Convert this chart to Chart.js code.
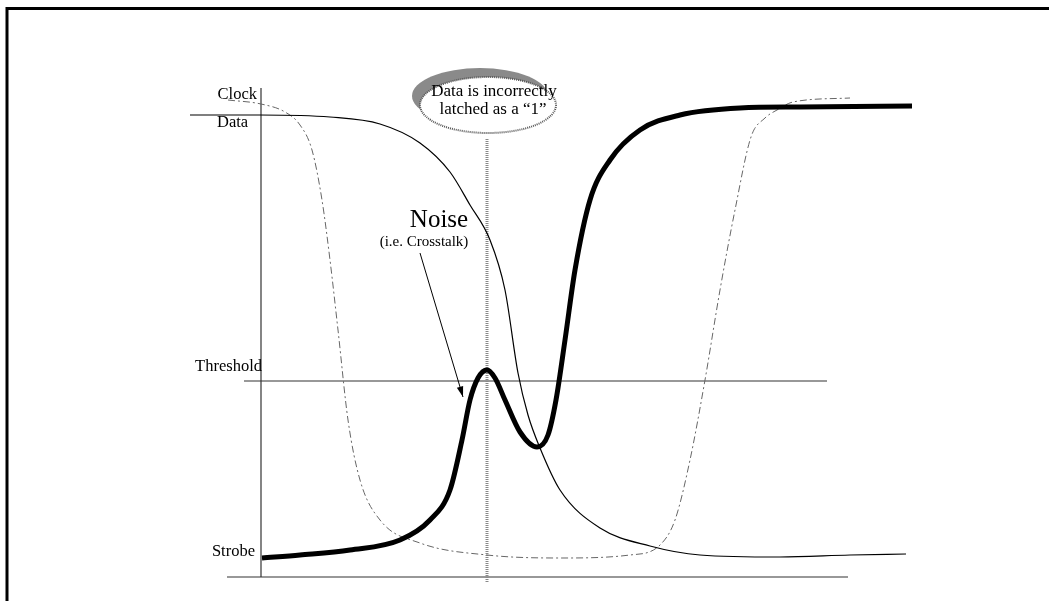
<!DOCTYPE html>
<html>
<head>
<meta charset="utf-8">
<script src="https://cdn.jsdelivr.net/npm/chart.js@4/dist/chart.umd.min.js"></script>
<style>
  html, body { margin:0; padding:0; background:#fff; }
  canvas { display:block; }
</style>
</head>
<body>
<canvas id="timing" width="1049" height="601"></canvas>
<script>
// time (x) and level (y)
const strobeT = [0.2, 7.8, 17.8, 27.8, 33.8, 37.8, 40.2, 41.8, 43.4, 45.2, 46.8, 48.8, 51.8, 55.2, 57.4, 59, 60.8, 62.8, 65.8, 69.8, 75.8, 83.8, 95.8, 107.8, 130.2];
const strobeV = [3.8, 4.4, 5.4, 7.4, 11.4, 17.4, 27.4, 35.4, 39.8, 41.4, 39.8, 35.4, 29, 26, 28.4, 35.4, 47.4, 61.4, 75.4, 83.4, 89.4, 92.4, 93.8, 94, 94.2];

const dataT = [-14.2, -0.2, 13.8, 23.8, 31.8, 37.8, 41.8, 45.8, 48.8, 51.4, 53.4, 55.8, 59.8, 67.8, 77.8, 87.8, 103.8, 117.8, 129];
const dataV = [92.4, 92.4, 92, 90.6, 86.8, 81, 74.4, 67.4, 57.4, 40.8, 32.4, 25.8, 17.4, 9.8, 6.2, 4.4, 4, 4.4, 4.6];

const clockT = [-6.6, 0, 4.8, 7.8, 10.2, 12.2, 13.8, 15.4, 17.4, 19.8, 23.8, 31.8, 45.2, 59.8, 73.8, 79.8, 82.8, 85.8, 88.8, 91.8, 94.8, 98, 100.8, 103.2, 106.4, 117.8];
const clockV = [95.4, 94.6, 93, 90.4, 85.4, 75.4, 63.4, 49.4, 31.4, 19.4, 11.4, 6.8, 4.4, 3.8, 4.4, 6.4, 11.4, 23.4, 39.4, 57.4, 73.4, 88, 91.8, 93.4, 95, 95.8];

const thresholdLevel = 39.2;
const thresholdSpan = [-3.4, 113.2];
const latchTime = 45.2;
const latchSpan = [-1, 87.8];
const xAxisSpan = [-6.8, 117.4];
const yAxisTop = 97.8;

const levelLabels = ['Clock', 'Data', 'Threshold', 'Strobe'];
const calloutLines = ['Data is incorrectly', 'latched as a \u201c1\u201d'];
const noiseLabels = ['Noise', '(i.e. Crosstalk)'];

const pts = (xs, ys) => xs.map((v, i) => ({x: v, y: ys[i]}));

const line = (data, color, width, dash, extra={}) => ({
  data, borderColor: color, borderWidth: width, borderDash: dash || [],
  pointRadius: 0, fill: false, tension: 0, ...extra
});

const overlay = {
  id: 'overlay',
  afterDraw(chart){
    const {ctx, scales:{x, y}} = chart;
    const px = v => x.getPixelForValue(v), py = v => y.getPixelForValue(v);
    ctx.save();

    // page frame
    ctx.strokeStyle = '#000'; ctx.lineWidth = 3;
    ctx.beginPath(); ctx.moveTo(7, 601); ctx.lineTo(7, 8.5); ctx.lineTo(1049, 8.5); ctx.stroke();

    // level labels
    ctx.fillStyle = '#000';
    ctx.font = '16.5px "Liberation Serif", serif';
    ctx.textBaseline = 'alphabetic';
    ctx.textAlign = 'right';
    ctx.fillText(levelLabels[0], 257, 99);
    ctx.fillText(levelLabels[2], 262, 371);
    ctx.fillText(levelLabels[3], 255, 556);
    ctx.textAlign = 'left';
    ctx.fillText(levelLabels[1], 217, 127);

    // callout bubble
    const cx = px(latchTime) + 1, cy = py(94.4);
    ctx.fillStyle = '#8a8a8a';
    ctx.beginPath(); ctx.ellipse(cx - 8, cy - 9, 68, 28, 0, 0, Math.PI*2); ctx.fill();
    ctx.fillStyle = '#fff';
    ctx.beginPath(); ctx.ellipse(cx, cy, 68, 28, 0, 0, Math.PI*2); ctx.fill();
    ctx.strokeStyle = '#555'; ctx.lineWidth = 2; ctx.setLineDash([1, 1]);
    ctx.stroke();
    ctx.setLineDash([]);
    ctx.fillStyle = '#000';
    ctx.textAlign = 'center';
    ctx.font = '17px "Liberation Serif", serif';
    ctx.fillText(calloutLines[0], 494, 96);
    ctx.fillText(calloutLines[1], 493, 114);

    // noise label + arrow
    ctx.font = '25px "Liberation Serif", serif';
    ctx.fillText(noiseLabels[0], 439, 227);
    ctx.font = '15px "Liberation Serif", serif';
    ctx.fillText(noiseLabels[1], 424, 246);
    const ax0 = 420, ay0 = 253, ax1 = 463, ay1 = 397;
    ctx.strokeStyle = '#000'; ctx.lineWidth = 1;
    ctx.beginPath(); ctx.moveTo(ax0, ay0); ctx.lineTo(ax1, ay1); ctx.stroke();
    const ang = Math.atan2(ay1 - ay0, ax1 - ax0);
    ctx.beginPath();
    ctx.moveTo(ax1, ay1);
    ctx.lineTo(ax1 - 11*Math.cos(ang - 0.3), ay1 - 11*Math.sin(ang - 0.3));
    ctx.lineTo(ax1 - 11*Math.cos(ang + 0.3), ay1 - 11*Math.sin(ang + 0.3));
    ctx.closePath(); ctx.fillStyle = '#000'; ctx.fill();

    ctx.restore();
  }
};

new Chart(document.getElementById('timing').getContext('2d'), {
  type: 'line',
  data: {
    datasets: [
      line(pts(strobeT, strobeV), '#000', 5, null, {cubicInterpolationMode:'monotone', borderCapStyle:'butt'}),
      line(pts(dataT, dataV), '#000', 1.2, null, {cubicInterpolationMode:'monotone'}),
      line(pts(clockT, clockV), '#666', 1, [7, 3, 2, 3], {cubicInterpolationMode:'monotone'}),
      line([{x: latchTime, y: latchSpan[0]}, {x: latchTime, y: latchSpan[1]}], '#888', 3, [1, 1]),
      line([{x: thresholdSpan[0], y: thresholdLevel}, {x: thresholdSpan[1], y: thresholdLevel}], '#333', 1.2),
      line([{x: xAxisSpan[0], y: 0}, {x: xAxisSpan[1], y: 0}], '#333', 1.2),
      line([{x: 0, y: 0}, {x: 0, y: yAxisTop}], '#333', 1.2)
    ]
  },
  options: {
    responsive: false,
    animation: false,
    layout: { padding: 0 },
    plugins: { legend: { display: false }, tooltip: { enabled: false } },
    scales: {
      x: { type: 'linear', display: false, min: -52.2, max: 157.6 },
      y: { type: 'linear', display: false, min: -4.8, max: 115.4 }
    }
  },
  plugins: [overlay]
});
</script>
</body>
</html>
